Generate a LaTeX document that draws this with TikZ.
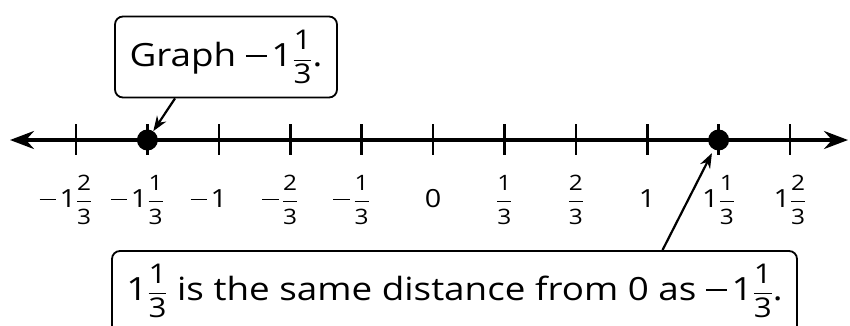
\documentclass[tikz,border=0pt]{standalone}
\usepackage{amsmath}
\usepackage{graphicx}
\usepackage{fontspec}
\setmainfont{Open Sans}[FakeStretch=1.15]
\usepackage{tikz}
\usetikzlibrary{arrows.meta}

% fraction with text digits, and a minus sign drawn as a rule
\newcommand{\fr}[3][.85]{$\dfrac{\scalebox{#1}{#2}}{\scalebox{#1}{#3}}$}
\newcommand{\mn}{\rule[0.29em]{0.66em}{0.065em}\kern0.14em}

\begin{document}
\begin{tikzpicture}[
    x=1pt, y=-1pt,
    axis/.style={line width=3.5pt, {Stealth[length=24pt,width=18pt,inset=8pt]}-{Stealth[length=24pt,width=18pt,inset=8pt]}},
    tick/.style={line width=2.6pt},
    dot/.style={circle, fill=black, inner sep=0pt, minimum size=21pt},
    lbl/.style={anchor=base, font=\fontsize{25}{30}\selectfont, inner sep=0pt},
    callout/.style={draw, line width=1.8pt, rounded corners=8pt, inner sep=0pt,
        font=\fontsize{32}{38}\selectfont},
    pointer/.style={-{Stealth[length=15pt,width=11pt]}, line width=2.2pt},
]
\path[use as bounding box, clip] (0,0) rectangle (850,325);

% number line
\coordinate (left) at (10,140);
\coordinate (right) at (848,140);
\draw[axis] (left) -- (right);
\foreach \k in {-5,...,5}
    \draw[tick] (433+71.4*\k,124) -- (433+71.4*\k,155);

% labels
\node[lbl] (l-5) at (433-71.4*5,207.5) {\llap{\mn}1\fr{2}{3}};
\node[lbl] (l-4) at (433-71.4*4,207.5) {\llap{\mn}1\fr{1}{3}};
\node[lbl] (l-3) at (433-71.4*3,207.5) {\llap{\mn}1};
\node[lbl] (l-2) at (433-71.4*2,207.5) {\llap{\mn}\fr{2}{3}};
\node[lbl] (l-1) at (433-71.4*1,207.5) {\llap{\mn}\fr{1}{3}};
\node[lbl] (l0) at (433,207.5) {0};
\node[lbl] (l1) at (433+71.4*1,207.5) {\fr{1}{3}};
\node[lbl] (l2) at (433+71.4*2,207.5) {\fr{2}{3}};
\node[lbl] (l3) at (433+71.4*3,207.5) {1};
\node[lbl] (l4) at (433+71.4*4,207.5) {1\fr{1}{3}};
\node[lbl] (l5) at (433+71.4*5,207.5) {1\fr{2}{3}};

% graphed points
\node[dot] (neg) at (433-71.4*4,140) {};
\node[dot] (pos) at (433+71.4*4,140) {};

% callouts
\node[callout, minimum width=222pt, text height=50pt, text depth=31pt] (graph) at (226,57)
    {Graph \mn1\fr{1}{3}.};
\node[callout, minimum width=685pt, text height=49pt, text depth=45pt] (same) at (454.5,298)
    {1\fr{1}{3} is the same distance from 0 as \mn1\fr{1}{3}.};

\draw[pointer] ([xshift=-51pt]graph.south) -- (neg);
\draw[pointer, shorten >=4pt] ([xshift=208pt]same.north) -- (pos);

\end{tikzpicture}
\end{document}
